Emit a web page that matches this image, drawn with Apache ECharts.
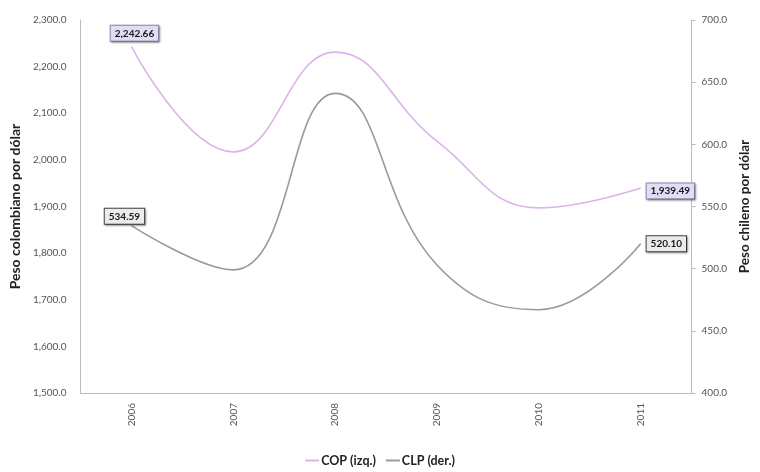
<!DOCTYPE html>
<html>
<head>
<meta charset="utf-8">
<script src="https://cdn.jsdelivr.net/npm/echarts@6/dist/echarts.min.js"></script>
<style>
html,body{margin:0;padding:0;background:#fff;}
#chart{width:760px;height:472px;}
</style>
</head>
<body>
<div id="chart"></div>
<script>
const years = ['2006','2007','2008','2009','2010','2011'];
const cop = [2242.66, 2017, 2231, 2040, 1897, 1939.49];
const clp = [534.59, 499, 641, 503, 467, 520.10];
const leftTicks = {min: 1500, max: 2300, interval: 100};
const rightTicks = {min: 400, max: 700, interval: 50};
const seriesNames = ['COP (izq.)', 'CLP (der.)'];

function fmt(v, d) {
  const s = Number(v).toFixed(d);
  const parts = s.split('.');
  parts[0] = parts[0].replace(/\B(?=(\d{3})+(?!\d))/g, ',');
  return parts.join('.');
}

const FONT = 'Lato, "Open Sans", sans-serif';
const last = years.length - 1;

function boxLabel(bg, border, pos, dist, offset) {
  return {
    show: true, position: pos, distance: dist, offset: offset,
    formatter: p => fmt(p.value, 2),
    fontFamily: FONT, fontSize: 10, fontWeight: 'bold', color: '#1a1a1a',
    backgroundColor: bg, borderColor: border, borderWidth: 1,
    padding: [3, 4, 2, 4],
    shadowColor: 'rgba(0,0,0,0.35)', shadowBlur: 2, shadowOffsetX: 1, shadowOffsetY: 1
  };
}

const copData = cop.map((v, i) => {
  if (i === 0) return {value: v, label: boxLabel('#e3dcf5', '#8f84b0', 'top', 6, [3, 0])};
  if (i === last) return {value: v, label: boxLabel('#e3dcf5', '#8f84b0', 'right', 6, [0, 3])};
  return v;
});
const clpData = clp.map((v, i) => {
  if (i === 0) return {value: v, label: boxLabel('#ebebeb', '#444', 'top', 2, [-7, 0])};
  if (i === last) return {value: v, label: boxLabel('#ebebeb', '#444', 'right', 6, [0, 0])};
  return v;
});

const chart = echarts.init(document.getElementById('chart'), null, {renderer: 'canvas'});
chart.setOption({
  animation: false,
  backgroundColor: '#fff',
  grid: {left: 80, right: 67, top: 20, bottom: 79},
  legend: {
    bottom: 0, left: 'center',
    itemWidth: 14, itemHeight: 2, itemGap: 10,
    icon: 'rect',
    textStyle: {fontFamily: FONT, fontSize: 12.5, fontWeight: 'bold', color: '#222', padding: [0, 0, 0, -3]},
    data: seriesNames
  },
  xAxis: {
    type: 'category', data: years, boundaryGap: true,
    axisLine: {lineStyle: {color: '#bdbdbd', width: 1}},
    axisTick: {show: false},
    axisLabel: {rotate: 90, margin: 10, fontFamily: FONT, fontSize: 10, color: '#555'}
  },
  yAxis: [
    {
      type: 'value', position: 'left',
      min: leftTicks.min, max: leftTicks.max, interval: leftTicks.interval,
      name: 'Peso colombiano por dólar', nameLocation: 'middle', nameRotate: 90, nameGap: 58,
      nameTextStyle: {fontFamily: FONT, fontSize: 14, fontWeight: 'bold', color: '#222'},
      axisLine: {show: true, lineStyle: {color: '#bdbdbd'}},
      axisTick: {show: false},
      splitLine: {show: false},
      axisLabel: {formatter: v => fmt(v, 1), margin: 14, fontFamily: FONT, fontSize: 10, color: '#555'}
    },
    {
      type: 'value', position: 'right',
      min: rightTicks.min, max: rightTicks.max, interval: rightTicks.interval,
      name: 'Peso chileno por dólar', nameLocation: 'middle', nameRotate: 90, nameGap: 41,
      nameTextStyle: {fontFamily: FONT, fontSize: 13.5, fontWeight: 'bold', color: '#222'},
      axisLine: {show: true, lineStyle: {color: '#bdbdbd'}},
      axisTick: {show: true, length: 4, lineStyle: {color: '#bdbdbd'}},
      splitLine: {show: false},
      axisLabel: {formatter: v => fmt(v, 1), margin: 10, fontFamily: FONT, fontSize: 10, color: '#555'}
    }
  ],
  series: [
    {
      name: seriesNames[0], type: 'line', yAxisIndex: 0, data: copData,
      smooth: 0.45, symbol: 'circle', symbolSize: 0, showSymbol: true,
      lineStyle: {color: '#dcb3e8', width: 1.6},
      itemStyle: {color: '#dcb3e8'}
    },
    {
      name: seriesNames[1], type: 'line', yAxisIndex: 1, data: clpData,
      smooth: 0.45, symbol: 'circle', symbolSize: 0, showSymbol: true,
      lineStyle: {color: '#9a9a9a', width: 1.6},
      itemStyle: {color: '#9a9a9a'}
    }
  ]
});
</script>
</body>
</html>
